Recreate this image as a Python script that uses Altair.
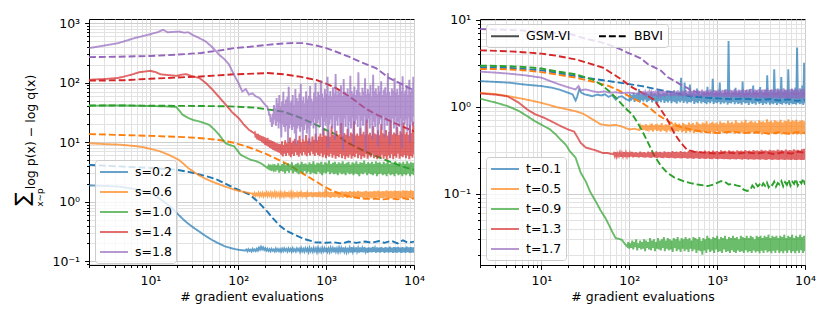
import altair as alt
import numpy as np
import pandas as pd

FONT = "DejaVu Sans"
COLORS = ["#1f77b4", "#ff7f0e", "#2ca02c", "#d62728", "#9467bd"]
LEFT_LABELS = ["s=0.2", "s=0.6", "s=1.0", "s=1.4", "s=1.8"]
RIGHT_LABELS = ["t=0.1", "t=0.5", "t=0.9", "t=1.3", "t=1.7"]
METHODS = ["GSM-VI", "BBVI"]

# ---------------- LEFT PANEL ----------------
# smooth parts as (x, y); noisy tails as upper / lower swings read off the bands
L02_GSM = [(2,1.88),(3,1.85),(4.4,1.8),(6.5,1.65),(8.8,1.49),(10.5,1.35),(12.5,1.15),(15,0.95),(17.7,0.78),(21,0.6),(25,0.47),(30,0.38),(35.6,0.32),(42,0.27),(50,0.23),(60,0.2),(71,0.178),(85,0.165),(100,0.157),(120,0.152)]
L02_GSM_HI = [0.158,0.160,0.157,0.162,0.159,0.163,0.170,0.176,0.172,0.166,0.163,0.160,0.162,0.159,0.164,0.161,0.160,0.163,0.165,0.161,0.164,0.162,0.166,0.160,0.165,0.163,0.167,0.162,0.166,0.164,0.168,0.163,0.167,0.165,0.169,0.163,0.168,0.166,0.170,0.164,0.169,0.166,0.171,0.165,0.170,0.167,0.172,0.165,0.170,0.168,0.173,0.166,0.171,0.168,0.172,0.167,0.174,0.168,0.171,0.169,0.175,0.167,0.172,0.170,0.174,0.168,0.173,0.170,0.176,0.169,0.173,0.171,0.175,0.169,0.174,0.170,0.176,0.171,0.174,0.172]
L02_GSM_LO = [0.148,0.150,0.147,0.151,0.149,0.152,0.158,0.160,0.156,0.152,0.150,0.148,0.151,0.147,0.150,0.148,0.146,0.149,0.151,0.147,0.150,0.146,0.149,0.147,0.151,0.145,0.148,0.146,0.150,0.144,0.148,0.146,0.149,0.143,0.147,0.145,0.149,0.143,0.146,0.144,0.148,0.142,0.146,0.144,0.147,0.142,0.145,0.143,0.147,0.141,0.145,0.143,0.146,0.141,0.144,0.142,0.146,0.140,0.144,0.142,0.145,0.140,0.143,0.141,0.145,0.139,0.143,0.141,0.144,0.139,0.142,0.140,0.144,0.139,0.142,0.140,0.143,0.139,0.141,0.140]
L02_BB = [(2,4.17),(4,3.95),(7,3.8),(10,3.7),(15,3.55),(20,3.45),(28,3.15),(37.5,2.84),(47,2.6),(58,2.34),(72,2.0),(90,1.70),(110,1.5),(136,1.31),(170,0.98),(213,0.69),(250,0.52),(290,0.41),(350,0.33),(440,0.28),(550,0.24),(750,0.21),(1000,0.205),(1200,0.21),(1500,0.2),(1800,0.215),(2200,0.205),(2800,0.216),(3300,0.205),(4000,0.22),(4600,0.205),(5500,0.222),(6500,0.2),(7500,0.226),(8500,0.205),(10000,0.215)]

L06_GSM = [(2,9.6),(3,9.3),(4.5,9.1),(6.8,8.6),(8.5,8.2),(10.5,7.6),(13,7.0),(16.2,6.15),(21,5.07),(24,4.3),(27,3.67),(31,3.2),(35,2.84),(42,2.45),(50,2.19),(60,1.98),(71,1.8),(85,1.65),(100,1.53),(120,1.45),(141,1.38)]
L06_GSM_HI = [1.38,1.40,1.37,1.42,1.39,1.41,1.38,1.43,1.40,1.42,1.39,1.44,1.41,1.40,1.43,1.39,1.42,1.45,1.40,1.43,1.41,1.44,1.40,1.46,1.42,1.43,1.45,1.41,1.44,1.47,1.42,1.45,1.43,1.48,1.44,1.46,1.65,1.50,1.45,1.47,1.44,1.49,1.46,1.45,1.50,1.46,1.48,1.45,1.51,1.47,1.49,1.46,1.52,1.48,1.47,1.50,1.53,1.47,1.50,1.48,1.52,1.49,1.54,1.48,1.51,1.50,1.55,1.49,1.52,1.50,1.54,1.51,1.53,1.50,1.56,1.52,1.54,1.51,1.55,1.53]
L06_GSM_LO = [1.28,1.26,1.29,1.25,1.27,1.24,1.28,1.25,1.27,1.23,1.26,1.24,1.27,1.22,1.25,1.23,1.26,1.21,1.24,1.22,1.25,1.20,1.24,1.22,1.25,1.20,1.23,1.21,1.24,1.19,1.23,1.20,1.22,1.19,1.23,1.18,1.22,1.20,1.17,1.21,1.19,1.22,1.17,1.20,1.18,1.21,1.16,1.20,1.17,1.21,1.15,1.19,1.17,1.20,1.15,1.18,1.16,1.19,1.14,1.18,1.15,1.19,1.14,1.17,1.15,1.18,1.13,1.17,1.14,1.18,1.12,1.16,1.14,1.17,1.12,1.16,1.13,1.17,1.12,1.15]
L06_BB = [(2,13.7),(4,13.3),(7,13.0),(10,12.8),(15,12.5),(24,12.2),(35,11.8),(58,11.0),(90,9.8),(139,8.0),(200,6.5),(250,5.6),(330,4.6),(420,3.8),(500,3.2),(620,2.65),(770,2.19),(950,1.8),(1180,1.53),(1450,1.36),(1840,1.23),(2300,1.16),(2800,1.12),(3500,1.13),(4500,1.1),(5500,1.14),(6500,1.1),(7500,1.15),(8500,1.1),(10000,1.14)]

L10_GSM = [(2,41),(4,41.5),(7,41),(10,40.5),(15,40),(19.6,39),(21,35),(23.2,29),(27,25.5),(31,23.5),(36,22.3),(41,21),(46.6,19.6),(53,16.5),(60.7,13.3),(66,11.2),(72,9.6),(80,9.0),(90,8.5),(98,7.2),(106,6.2),(120,5.6),(139,5.06),(160,4.8),(180,4.45),(200,4.0),(215,3.7)]
L10_GSM_HI = [4.0,4.2,3.9,4.3,4.1,4.4,4.0,4.3,4.5,4.1,4.4,4.2,4.6,4.1,4.3,4.5,4.2,4.7,4.3,4.4,4.2,4.6,4.3,4.8,4.2,4.5,4.4,4.7,4.2,4.6,4.4,4.9,4.3,4.5,4.7,4.3,4.6,4.4,4.8,4.3,4.5,4.7,4.2,4.6,4.4,4.8,4.3,4.6,4.5,4.9,4.3,4.6,4.4,4.7,4.3,4.8,4.5,4.6,4.3,4.7,4.4,4.9,4.3,4.6,4.5,4.8,4.2,4.6,4.4,4.7,4.3,4.8,4.4,4.6,4.5]
L10_GSM_LO = [3.4,3.3,3.5,3.2,3.4,3.1,3.3,3.2,3.0,3.3,3.1,3.4,3.0,3.2,3.1,2.9,3.2,3.0,3.3,3.0,3.2,2.9,3.1,3.0,2.9,3.2,3.0,2.8,3.1,3.0,3.2,2.9,3.1,2.9,3.0,2.8,3.1,2.9,3.0,2.8,3.1,2.9,3.0,2.8,3.0,2.9,2.7,3.0,2.9,3.1,2.8,3.0,2.9,2.8,3.0,2.7,2.9,3.0,2.8,2.9,2.7,3.0,2.8,2.9,2.7,3.0,2.8,2.9,2.7,2.9,2.8,3.0,2.7,2.9,2.8]
L10_BB = [(2,41.3),(5,41.3),(10,41),(20,40.8),(40,40.5),(80,40),(155,38),(325,32.7),(500,26),(770,19.6),(1000,16),(1200,14.2),(1400,12.5),(1700,10),(2200,8.3),(2800,7.0),(3600,5.9),(4700,5.07),(6000,4.4),(7400,3.9),(10000,3.44)]

L14_GSM = [(2,112),(3,115),(4.3,120),(6,135),(7.5,150),(10,158),(11.5,150),(13,138),(16,134),(20,130),(22,135),(25.4,139),(30,128),(36,120),(43,98),(51,76),(60,58),(72,42.6),(85,32),(102,25),(115,20),(132,16.2),(151,14.2)]
L14_GSM_HI = [14.6,14.0,13.8,13.2,12.8,12.5,12.2,11.6,11.8,11.0,10.8,10.5,10.2,9.8,9.6,9.4,9.2,10.4,9.0,10.8,9.6,10.2,12.0,9.8,10.6,11.4,9.5,10.8,12.8,10.0,11.2,10.4,13.2,10.6,11.6,10.2,12.4,11.0,14.0,10.8,12.5,14.0,12.2,16.5,13.0,12.6,14.8,12.4,19.0,13.2,12.8,15.5,13.0,13.6,21.0,12.8,14.2,13.4,16.8,12.6,14.6,13.8,22.5,13.0,14.0,12.8,17.5,13.6,15.0,13.2,24.0,13.4,14.4,12.9,18.5,14.0,13.5,15.8,13.1,20.0,14.2,13.6,16.0,13.0,14.8,23.0,13.4,14.6,13.8,18.0,13.2,15.2,14.0,21.5,13.6,14.8,13.3,19.5,14.4,22.0]
L14_GSM_LO = [12.0,11.2,10.8,10.5,10.0,9.6,9.0,8.8,8.4,8.0,7.8,7.4,7.2,7.0,6.8,6.6,6.2,5.8,6.4,5.9,6.6,6.0,5.6,6.3,5.9,6.8,6.1,5.7,6.5,6.0,6.9,6.2,5.8,6.6,6.0,7.0,6.3,5.9,6.7,6.1,5.8,6.5,5.6,6.2,5.4,6.0,5.7,6.4,5.5,6.1,5.3,5.9,5.6,6.3,5.4,6.0,5.2,5.8,5.5,6.2,5.3,5.9,5.6,6.4,5.4,6.1,5.2,5.8,5.5,6.3,5.3,6.0,5.6,6.5,5.4,5.9,5.2,5.7,5.5,6.2,5.3,5.8,5.1,6.0,5.4,6.3,5.2,5.9,5.5,6.4,5.3,5.8,5.6,6.1,5.4,6.0,5.2,5.9,5.5,6.2]
L14_BB = [(2,108),(5,110),(10,116),(20,122),(37.5,127),(90,138),(155,142),(215,145),(325,138),(500,126),(770,111),(1000,96),(1300,81),(1840,58.6),(2800,37),(3600,30),(4700,25),(6000,21),(7400,18.4),(10000,15.2)]

L18_GSM = [(2,380),(3,420),(4.3,460),(6.6,560),(10,650),(12,700),(14,770),(15.7,700),(18,710),(21.3,720),(24,690),(27,700),(30,636),(36,560),(42.7,490),(50,400),(60.7,294),(70,245),(78.7,200),(93.6,119),(100,100),(111,71),(122,78),(132,63),(145,66),(158,59),(175,55),(196,45),(210,40)]
L18_GSM_HI = [40,34,30,26,30,42,38,55,45,62,40,48,70,44,52,58,85,46,50,62,42,78,55,48,66,95,50,58,45,72,52,60,88,54,48,68,100,58,70,62,110,66,56,78,64,125,60,72,58,84,66,140,62,74,68,90,60,115,70,64,80,58,130,72,66,86,62,76,150,68,60,82,70,118,64,78,66,92,58,135,72,80,64,88,70,105,62,76,84,66,145,70,60,80,74,120,68,78,62,100,72,128,66,74,90,62,112,70,80,125]
L18_GSM_LO = [36,28,22,18,20,24,19,22,17,21,12,20,18,15,19,10,17,20,16,18,14,9,17,19,15,18,11,16,20,14,17,9,19,22,17,25,10,21,24,18,27,13,22,19,26,8,20,24,17,28,11,23,19,26,14,21,7.5,25,18,29,12,22,17,26,9,20,24,18,28,13,23,19,27,7,21,25,17,28,11,22,18,26,8.5,20,24,16,28,12,23,19,26,9,21,25,17,27,13,22,18,25,8,23,20,24,15,26,10,22,19,27]
L18_BB = [(2,268),(4,272),(10,280),(20,295),(37.5,315),(60,345),(90,380),(136,400),(215,431),(300,450),(420,462),(550,460),(770,420),(1000,380),(1300,330),(1840,270),(2500,220),(3690,175),(5240,119),(7000,97),(8800,81),(10000,76)]

# ---------------- RIGHT PANEL ----------------
R01_GSM = [(2,1.97),(3,1.93),(4.3,1.89),(6.5,1.80),(10,1.73),(13,1.66),(15.9,1.58),(19,1.48),(22.6,1.39),(24.5,1.18),(25.5,1.3),(26.9,1.58),(28.5,1.45),(31,1.39),(34,1.36),(38,1.32),(43,1.38),(48,1.35),(53,1.39),(58,1.30),(64,1.36),(70,1.21),(76,1.30),(83,1.32),(90,1.24),(100,1.17)]
R01_GSM_HI = [1.40,1.36,1.45,1.38,1.42,1.60,1.39,1.44,1.37,1.46,1.41,1.38,1.48,1.40,1.43,1.37,1.52,1.41,1.39,1.45,1.42,1.50,1.38,1.44,1.40,1.55,1.43,1.39,1.47,2.16,1.41,1.90,1.45,1.40,1.80,1.43,1.48,1.41,1.62,1.44,1.40,1.50,1.46,1.42,1.70,1.44,1.49,2.10,1.43,1.52,1.45,1.90,1.47,1.42,1.58,1.46,5.70,1.44,1.50,1.47,1.65,1.45,1.52,1.48,1.95,1.44,1.55,1.47,1.60,1.46,1.75,1.49,1.53,1.45,1.68,1.50,1.47,1.58,2.30,1.48,1.56,1.50,2.70,1.47,1.62,1.52,2.20,1.49,1.57,1.51,2.69,1.48,1.60,1.53,1.66,4.80,1.50,1.58,1.75,3.20]
R01_GSM_LO = [1.18,1.22,1.14,1.20,1.16,1.12,1.19,1.15,1.21,1.13,1.17,1.20,1.12,1.18,1.14,1.10,1.17,1.13,1.19,1.11,1.16,1.12,1.18,1.10,1.15,1.13,1.09,1.16,1.12,1.18,1.11,1.15,1.09,1.14,1.12,1.17,1.08,1.13,1.10,1.16,1.09,1.14,1.11,1.07,1.13,1.10,1.15,1.08,1.12,1.10,1.14,1.07,1.12,1.09,1.13,1.06,1.11,1.09,1.14,1.07,1.12,1.08,1.10,1.06,1.13,1.09,1.11,1.05,1.12,1.08,1.10,1.06,1.13,1.08,1.11,1.05,1.10,1.07,1.12,1.06,1.09,1.07,1.11,1.05,1.10,1.08,1.06,1.11,1.07,1.09,1.05,1.10,1.07,1.08,1.06,1.11,1.07,1.09,1.05,1.10]
R01_BB = [(2,2.85),(4,2.8),(7,2.7),(10,2.62),(15,2.45),(24.5,2.25),(38,2.1),(59,1.97),(90,1.85),(140,1.73),(210,1.58),(324,1.45),(500,1.32),(780,1.27),(1000,1.25),(1500,1.22),(2000,1.24),(3000,1.2),(4000,1.23),(5000,1.18),(6500,1.22),(8000,1.17),(10000,1.2)]

R05_GSM = [(2,1.45),(3,1.40),(4.3,1.32),(6.5,1.22),(10,1.11),(15,0.99),(24.5,0.89),(30,0.83),(38,0.72),(47,0.63),(59,0.61),(70,0.62),(80,0.6),(91,0.57),(100,0.55),(115,0.56),(130,0.54)]
R05_GSM_HI = [0.60,0.62,0.59,0.63,0.61,0.60,0.64,0.61,0.63,0.60,0.62,0.65,0.61,0.63,0.62,0.64,0.60,0.63,0.66,0.62,0.64,0.61,0.65,0.63,0.62,0.66,0.63,0.65,0.62,0.67,0.64,0.63,0.66,0.64,0.68,0.63,0.65,0.67,0.64,0.66,0.63,0.68,0.65,0.66,0.64,0.69,0.65,0.67,0.64,0.70,0.66,0.65,0.68,0.66,0.71,0.65,0.67,0.69,0.66,0.68,0.65,0.70,0.67,0.68,0.66,0.72,0.67,0.69,0.66,0.70,0.68,0.67,0.71,0.66,0.69,0.68,0.72,0.67,0.70,0.68,0.71,0.67,0.69,0.70,0.68]
R05_GSM_LO = [0.55,0.54,0.56,0.53,0.55,0.54,0.52,0.55,0.53,0.56,0.52,0.54,0.53,0.51,0.54,0.52,0.55,0.51,0.53,0.52,0.54,0.51,0.53,0.50,0.53,0.51,0.54,0.50,0.52,0.51,0.53,0.50,0.52,0.51,0.53,0.50,0.52,0.49,0.51,0.53,0.49,0.52,0.50,0.51,0.49,0.52,0.50,0.51,0.49,0.52,0.49,0.51,0.50,0.49,0.52,0.49,0.50,0.51,0.49,0.50,0.49,0.51,0.48,0.50,0.49,0.48,0.50,0.49,0.51,0.48,0.49,0.50,0.48,0.49,0.48,0.50,0.48,0.49,0.48,0.50,0.48,0.49,0.48,0.49,0.48]
R05_BB = [(2,2.72),(4,2.7),(7,2.6),(10,2.5),(15,2.35),(24.5,2.16),(38,1.95),(59,1.73),(75,1.55),(91,1.39),(110,1.25),(140,1.11),(175,0.95),(210,0.81),(260,0.71),(324,0.625),(400,0.58),(500,0.55),(650,0.52),(780,0.51),(1000,0.5),(1500,0.52),(2000,0.5),(3000,0.51),(4000,0.49),(5000,0.51),(6500,0.49),(8000,0.51),(10000,0.5)]

R09_GSM = [(2,1.24),(3,1.12),(4.1,1.02),(5.5,0.9),(6.9,0.78),(8.5,0.68),(10.7,0.6),(12.5,0.55),(14.6,0.48),(16.5,0.42),(18.9,0.368),(21,0.31),(24.5,0.26),(28,0.175),(32,0.139),(36,0.105),(41.5,0.082),(47,0.065),(54,0.052),(60,0.042),(64,0.0367),(70,0.031),(76,0.0305),(83,0.0295),(88,0.027),(95,0.0248)]
R09_GSM_HI = [0.028,0.027,0.029,0.028,0.030,0.027,0.029,0.028,0.030,0.029,0.028,0.031,0.029,0.030,0.028,0.031,0.029,0.030,0.032,0.029,0.031,0.030,0.029,0.031,0.030,0.032,0.029,0.031,0.030,0.032,0.030,0.031,0.029,0.032,0.031,0.030,0.032,0.029,0.031,0.030,0.033,0.031,0.030,0.032,0.031,0.033,0.030,0.032,0.031,0.033,0.030,0.032,0.031,0.033,0.031,0.032,0.030,0.033,0.032,0.031,0.033,0.031,0.033,0.032,0.030,0.033,0.032,0.033,0.031,0.033,0.032,0.034,0.031,0.033,0.032,0.033,0.031,0.033,0.032,0.034,0.031,0.033,0.032,0.034,0.031,0.033,0.032,0.034,0.032,0.033]
R09_GSM_LO = [0.0235,0.024,0.023,0.0245,0.0225,0.024,0.023,0.0235,0.022,0.024,0.023,0.0225,0.024,0.022,0.0235,0.023,0.0225,0.024,0.022,0.0235,0.0225,0.023,0.0215,0.024,0.022,0.023,0.0215,0.0235,0.022,0.023,0.0215,0.0235,0.022,0.023,0.021,0.0225,0.022,0.020,0.0225,0.021,0.023,0.0215,0.0225,0.021,0.023,0.0215,0.022,0.021,0.023,0.0215,0.022,0.021,0.0225,0.0215,0.021,0.0225,0.0215,0.022,0.021,0.0225,0.0212,0.022,0.021,0.0225,0.0212,0.022,0.0208,0.0222,0.021,0.0225,0.0212,0.022,0.0208,0.0222,0.021,0.0225,0.021,0.022,0.0208,0.0222,0.021,0.0225,0.021,0.022,0.0208,0.0222,0.021,0.0225,0.021,0.022]
R09_BB = [(2,2.97),(4,2.93),(7,2.85),(10,2.75),(15,2.55),(24.5,2.36),(38,2.06),(48,1.8),(59,1.51),(70,1.28),(83,1.06),(95,0.92),(109,0.81),(125,0.65),(140,0.53),(165,0.38),(191,0.28),(229,0.21),(270,0.175),(324,0.155),(420,0.139),(500,0.133),(600,0.128),(780,0.123),(900,0.128),(1000,0.134),(1100,0.14),(1200,0.139),(1350,0.128),(1500,0.13),(1650,0.125),(1860,0.122),(2000,0.112),(2200,0.108),(2400,0.112)]
R09_BB_NOISE = [0.125,0.118,0.13,0.122,0.128,0.12,0.132,0.124,0.135,0.119,0.13,0.126,0.138,0.121,0.133,0.128,0.14,0.122,0.136,0.127,0.145,0.124,0.138,0.13,0.148,0.125,0.14,0.132,0.15,0.127]

R13_GSM = [(2,1.42),(3,1.38),(4.1,1.32),(5.5,1.12),(6.9,0.93),(8.5,0.82),(10.7,0.75),(13,0.68),(16.6,0.6),(20,0.55),(23.5,0.52),(25,0.47),(28,0.385),(32,0.34),(40,0.32),(50,0.295),(56,0.295),(65,0.285)]
R13_GSM_HI = [0.295,0.30,0.292,0.298,0.294,0.302,0.296,0.30,0.293,0.304,0.297,0.30,0.295,0.305,0.298,0.301,0.296,0.306,0.299,0.302,0.297,0.307,0.30,0.303,0.298,0.308,0.30,0.304,0.299,0.309,0.301,0.305,0.30,0.31,0.302,0.306,0.30,0.311,0.303,0.307,0.301,0.312,0.304,0.308,0.302,0.313,0.305,0.309,0.303,0.314,0.306,0.31,0.304,0.315,0.307,0.311,0.305,0.316,0.308,0.312,0.306,0.317,0.309,0.313,0.307,0.318,0.31,0.314,0.308,0.319,0.311,0.315,0.309,0.32,0.312,0.316,0.31,0.321,0.313,0.317,0.311,0.322,0.314,0.318,0.312,0.323,0.315,0.319,0.313,0.324,0.316,0.32,0.314,0.325,0.33]
R13_GSM_LO = [0.27,0.268,0.272,0.266,0.27,0.265,0.269,0.264,0.268,0.263,0.267,0.265,0.262,0.266,0.263,0.261,0.265,0.262,0.26,0.264,0.261,0.259,0.263,0.26,0.258,0.262,0.259,0.257,0.261,0.258,0.256,0.26,0.258,0.255,0.259,0.257,0.254,0.258,0.256,0.253,0.257,0.255,0.252,0.256,0.254,0.252,0.255,0.253,0.251,0.255,0.253,0.25,0.254,0.252,0.25,0.253,0.251,0.249,0.253,0.251,0.249,0.252,0.25,0.248,0.252,0.25,0.248,0.251,0.249,0.247,0.251,0.249,0.247,0.25,0.248,0.246,0.25,0.248,0.246,0.249,0.247,0.246,0.249,0.247,0.245,0.248,0.247,0.245,0.248,0.246,0.245,0.248,0.246,0.245,0.247]
R13_BB = [(2,4.45),(4,4.35),(7,4.2),(10,4.08),(15,3.85),(24.5,3.5),(35,3.15),(50,2.82),(76,2.16),(109,1.66),(150,1.4),(191,1.21),(230,0.92),(272,0.71),(324,0.5),(370,0.41),(420,0.35),(457,0.32),(550,0.305),(650,0.3),(800,0.295),(1000,0.29),(1300,0.3),(1700,0.29),(2200,0.3),(2800,0.29),(3500,0.3),(4500,0.285),(5500,0.3),(7000,0.29),(8500,0.305),(10000,0.295)]

R17_GSM = [(2,2.53),(3,2.47),(4.3,2.4),(6.5,2.3),(10,2.16),(13,1.95),(15.9,1.81),(20,1.68),(24.5,1.58),(26.5,1.73),(28,1.55),(31.9,1.58),(38,1.51),(45,1.47),(52,1.5),(59,1.45),(70,1.47),(80,1.44),(100,1.45),(120,1.42),(140,1.42)]
R17_GSM_HI = [1.47,1.49,1.46,1.50,1.48,1.51,1.47,1.50,1.49,1.52,1.48,1.51,1.50,1.53,1.49,1.52,1.50,1.54,1.49,1.52,1.51,1.55,1.50,1.53,1.52,1.56,1.50,1.54,1.52,1.57,1.51,1.54,1.53,1.58,1.52,1.55,1.53,1.57,1.52,1.56,1.54,1.59,1.53,1.56,1.54,1.60,1.53,1.57,1.55,1.59,1.54,1.58,1.55,1.61,1.54,1.57,1.56,1.60,1.55,1.58,1.56,1.62,1.55,1.59,1.57,1.61,1.56,1.59,1.57,1.63,1.56,1.60,1.58,1.62,1.57,1.60,1.58,1.63,1.57,1.61]
R17_GSM_LO = [1.38,1.36,1.39,1.35,1.37,1.34,1.38,1.35,1.36,1.33,1.37,1.34,1.36,1.32,1.35,1.33,1.36,1.32,1.34,1.31,1.35,1.32,1.34,1.31,1.33,1.30,1.34,1.31,1.33,1.30,1.32,1.29,1.33,1.30,1.32,1.29,1.31,1.28,1.32,1.29,1.31,1.28,1.30,1.27,1.31,1.28,1.30,1.27,1.29,1.27,1.30,1.26,1.29,1.27,1.28,1.26,1.29,1.25,1.28,1.26,1.27,1.25,1.28,1.24,1.27,1.25,1.26,1.24,1.27,1.24,1.26,1.25,1.23,1.26,1.24,1.25,1.23,1.26,1.24,1.25]
R17_BB = [(2,7.8),(5,7.6),(10,7.3),(15,7.0),(21.6,6.8),(33,6.0),(45,5.6),(57,5.2),(75,4.7),(95,4.2),(135,3.6),(162,3.1),(229,2.6),(272,2.2),(385,1.8),(546,1.5),(700,1.43),(1000,1.4),(1500,1.42),(2000,1.39),(3000,1.41),(4000,1.38),(5000,1.42),(6500,1.39),(8000,1.41),(10000,1.4)]


def series(label, method, knots, hi=None, lo=None, noise=None):
    xs = [k[0] for k in knots]
    ys = [k[1] for k in knots]
    if hi is not None:
        noise = [v for pair in zip(hi, lo) for v in pair]
    if noise:
        gx = np.geomspace(xs[-1], 10000, len(noise) + 1)[1:]
        xs += list(gx)
        ys += list(noise)
    return pd.DataFrame({"x": xs, "y": ys, "series": label, "method": method})


left_df = pd.concat([
    series("s=0.2", "GSM-VI", L02_GSM, L02_GSM_HI, L02_GSM_LO), series("s=0.2", "BBVI", L02_BB),
    series("s=0.6", "GSM-VI", L06_GSM, L06_GSM_HI, L06_GSM_LO), series("s=0.6", "BBVI", L06_BB),
    series("s=1.0", "GSM-VI", L10_GSM, L10_GSM_HI, L10_GSM_LO), series("s=1.0", "BBVI", L10_BB),
    series("s=1.4", "GSM-VI", L14_GSM, L14_GSM_HI, L14_GSM_LO), series("s=1.4", "BBVI", L14_BB),
    series("s=1.8", "GSM-VI", L18_GSM, L18_GSM_HI, L18_GSM_LO), series("s=1.8", "BBVI", L18_BB),
], ignore_index=True)

right_df = pd.concat([
    series("t=0.1", "GSM-VI", R01_GSM, R01_GSM_HI, R01_GSM_LO), series("t=0.1", "BBVI", R01_BB),
    series("t=0.5", "GSM-VI", R05_GSM, R05_GSM_HI, R05_GSM_LO), series("t=0.5", "BBVI", R05_BB),
    series("t=0.9", "GSM-VI", R09_GSM, R09_GSM_HI, R09_GSM_LO), series("t=0.9", "BBVI", R09_BB, noise=R09_BB_NOISE),
    series("t=1.3", "GSM-VI", R13_GSM, R13_GSM_HI, R13_GSM_LO), series("t=1.3", "BBVI", R13_BB),
    series("t=1.7", "GSM-VI", R17_GSM, R17_GSM_HI, R17_GSM_LO), series("t=1.7", "BBVI", R17_BB),
], ignore_index=True)

SUP = {-1: "⁻¹", 0: "⁰", 1: "¹", 2: "²", 3: "³", 4: "⁴"}
MAJOR_TEST = "indexof([0.1, 1, 10, 100, 1000, 10000], datum.value) >= 0"


def log_ticks(lo, hi):
    vals = []
    for k in range(-3, 5):
        for m in range(1, 10):
            v = round(m * 10.0 ** k, 6)
            if lo <= v <= hi:
                vals.append(v)
    return vals


def label_expr(lo, hi):
    parts = []
    for k in range(-1, 5):
        v = 10.0 ** k
        if lo <= v <= hi:
            parts.append(f"datum.value == {round(v, 6)} ? '10{SUP[k]}'")
    return " : ".join(parts) + " : ''"


def make_axis(lo, hi, title=None):
    return alt.Axis(
        values=log_ticks(lo, hi),
        labelExpr=label_expr(lo, hi),
        labelOverlap=False,
        labelFlush=False,
        grid=True,
        gridColor={"condition": {"test": MAJOR_TEST, "value": "#cdcdcd"}, "value": "#e2e2e2"},
        tickSize={"condition": {"test": MAJOR_TEST, "value": 4.4}, "value": 2.5},
        title=title,
    )


def panel(df, labels, ydom, color_legend, dash_legend):
    return alt.Chart(df).mark_line(strokeWidth=1.9, clip=True).encode(
        x=alt.X("x:Q", scale=alt.Scale(type="log", domain=[2, 10000], nice=False),
                axis=make_axis(2, 10000, "# gradient evaluations")),
        y=alt.Y("y:Q", scale=alt.Scale(type="log", domain=ydom, nice=False),
                axis=make_axis(ydom[0], ydom[1])),
        color=alt.Color("series:N", scale=alt.Scale(domain=labels, range=COLORS), legend=color_legend),
        strokeDash=alt.StrokeDash("method:N", scale=alt.Scale(domain=METHODS, range=[[1, 0], [6.9, 3]]),
                                  legend=dash_legend),
        opacity=alt.Opacity("method:N", scale=alt.Scale(domain=METHODS, range=[0.7, 1.0]), legend=None),
    ).properties(width=325, height=246)


LEG_COMMON = dict(
    title=None, symbolType="M-1,0H3", symbolSize=196, symbolStrokeWidth=1.9,
    labelFont=FONT, labelFontSize=12.5, labelColor="black", labelOffset=20,
    rowPadding=5, fillColor="rgba(255,255,255,0.8)", strokeColor="#cccccc",
    cornerRadius=3,
)

left_color_legend = alt.Legend(orient="none", legendX=6, legendY=141, padding=4, symbolOpacity=0.7, **LEG_COMMON)
right_color_legend = alt.Legend(orient="none", legendX=6, legendY=138, padding=4, symbolOpacity=0.7, **LEG_COMMON)
right_dash_legend = alt.Legend(orient="none", legendX=6, legendY=5, padding=4, direction="horizontal", columns=2,
                               columnPadding=24, symbolStrokeColor="black", **LEG_COMMON)

left_lines = panel(left_df, LEFT_LABELS, [0.087, 1170], left_color_legend, None)
right_lines = panel(right_df, RIGHT_LABELS, [0.01525, 10.19], right_color_legend, right_dash_legend)

# y-axis title of the left panel (sum over x~p of log p(x) - log q(x))
YT_SIGMA = ["∑"]
YT_SUB = ["x∼p"]
YT_MAIN = ["log p(x) − log q(x)"]
sigma = alt.Chart(pd.DataFrame({"t": YT_SIGMA})).mark_text(
    angle=270, align="center", baseline="middle", font=FONT, fontSize=20, color="black"
).encode(text="t:N", x=alt.value(-66), y=alt.value(180))
sub = alt.Chart(pd.DataFrame({"t": YT_SUB})).mark_text(
    angle=270, align="center", baseline="middle", font=FONT, fontSize=9, color="black"
).encode(text="t:N", x=alt.value(-49.5), y=alt.value(178.5))
main = alt.Chart(pd.DataFrame({"t": YT_MAIN})).mark_text(
    angle=270, align="center", baseline="middle", font=FONT, fontSize=12.5, color="black"
).encode(text="t:N", x=alt.value(-58), y=alt.value(113))

left = alt.layer(left_lines, sigma, sub, main)
right = right_lines

chart = alt.hconcat(left, right, spacing=66, bounds="flush").resolve_scale(
    color="independent", strokeDash="independent", opacity="independent"
).resolve_legend(
    color="independent", strokeDash="independent"
).configure_view(
    stroke="black", strokeWidth=1
).configure_axis(
    labelFont=FONT, labelFontSize=12.5, labelColor="black", labelPadding=5,
    titleFont=FONT, titleFontSize=12.5, titleFontWeight="normal", titleColor="black", titlePadding=4,
    domainColor="black", domainWidth=1, tickColor="black", tickWidth=1, gridWidth=1,
).properties(
    padding={"left": 4, "top": 5, "right": 0, "bottom": 0}, background="white"
)

chart.save("out.html", embed_options={"renderer": "svg", "actions": False})
